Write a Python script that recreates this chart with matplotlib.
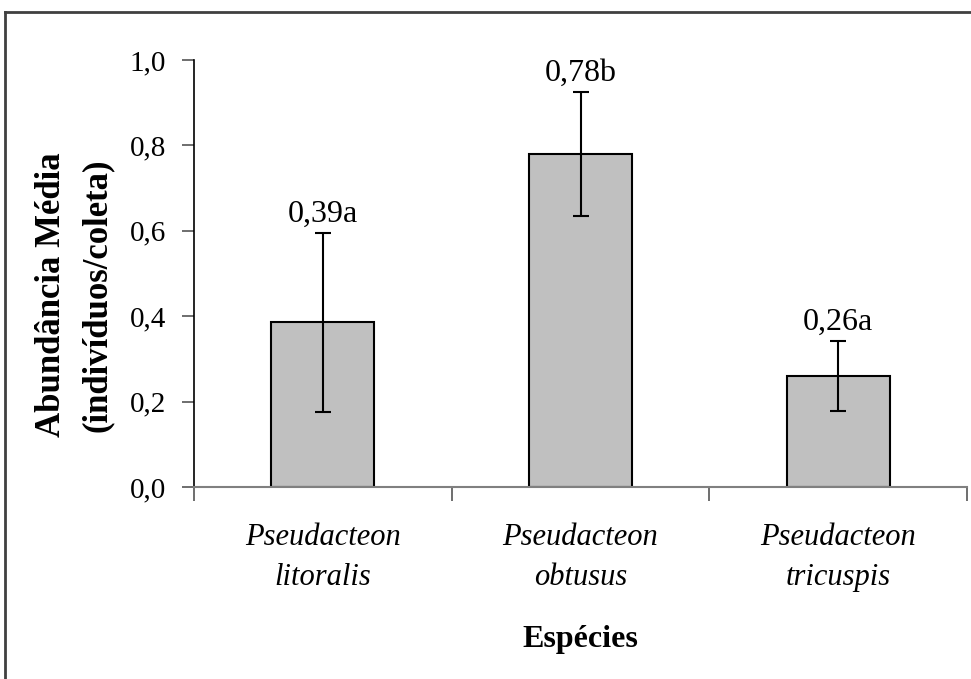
import matplotlib
matplotlib.use("Agg")
import matplotlib.pyplot as plt
from matplotlib.lines import Line2D
from matplotlib.ticker import FixedLocator, FuncFormatter

# Data
especies = ["Pseudacteon\nlitoralis", "Pseudacteon\nobtusus", "Pseudacteon\ntricuspis"]
medias = [0.386, 0.78, 0.26]
erros = [0.21, 0.145, 0.083]
rotulos = ["0,39a", "0,78b", "0,26a"]
yticks = [0.0, 0.2, 0.4, 0.6, 0.8, 1.0]

plt.rcParams["font.family"] = ["Liberation Serif", "DejaVu Serif"]

fig = plt.figure(figsize=(9.71, 6.79), dpi=100)
ax = fig.add_axes([0.1998, 0.2828, 0.7961, 0.6288])

x = list(range(len(especies)))
ax.bar(x, medias, width=0.4, color="#c0c0c0", edgecolor="black", linewidth=1.5, zorder=2)
ax.errorbar(x, medias, yerr=erros, fmt="none", ecolor="black", elinewidth=1.5,
            capsize=5.5, capthick=1.5, zorder=3)

for xi, m, e, r in zip(x, medias, erros, rotulos):
    ax.annotate(r, (xi, m + e), xytext=(0, 3), textcoords="offset points",
                ha="center", va="bottom", fontsize=23)

ax.set_xlim(-0.5, 2.5)
ax.set_ylim(0, 1.0)

ax.set_yticks(yticks)
ax.yaxis.set_major_formatter(FuncFormatter(lambda v, p: f"{v:.1f}".replace(".", ",")))
ax.tick_params(axis="y", direction="out", length=9, width=1.2, color="#555555",
               labelsize=21, pad=11)

# boundary ticks on x, labels at category centres
ax.xaxis.set_major_locator(FixedLocator([-0.5, 0.5, 1.5, 2.5]))
ax.xaxis.set_major_formatter(FuncFormatter(lambda v, p: ""))
ax.xaxis.set_minor_locator(FixedLocator(x))
ax.set_xticklabels(especies, minor=True, fontsize=22, style="italic", linespacing=1.5)
ax.tick_params(axis="x", which="major", direction="out", length=10, width=1.2, color="#555555")
ax.tick_params(axis="x", which="minor", length=0, pad=26)

for s in ["top", "right"]:
    ax.spines[s].set_visible(False)
ax.spines["left"].set_color("black")
ax.spines["left"].set_linewidth(1.2)
ax.spines["bottom"].set_color("#808080")
ax.spines["bottom"].set_linewidth(1.5)

ax.set_ylabel("Abundância Média\n(indivíduos/coleta)", fontsize=25, fontweight="bold",
              linespacing=1.5, va="center")
ax.yaxis.set_label_coords(-0.155, 0.45)
ax.set_xlabel("Espécies", fontsize=23, fontweight="bold", va="baseline")
ax.xaxis.set_label_coords(0.5, -0.375)

# outer frame
fig.add_artist(Line2D([5 / 971, 5 / 971], [0, 1 - 12 / 679], transform=fig.transFigure,
                      color="#404040", linewidth=2))
fig.add_artist(Line2D([5 / 971, 1], [1 - 12 / 679, 1 - 12 / 679], transform=fig.transFigure,
                      color="#404040", linewidth=2))

fig.savefig("out.png", dpi=100)
